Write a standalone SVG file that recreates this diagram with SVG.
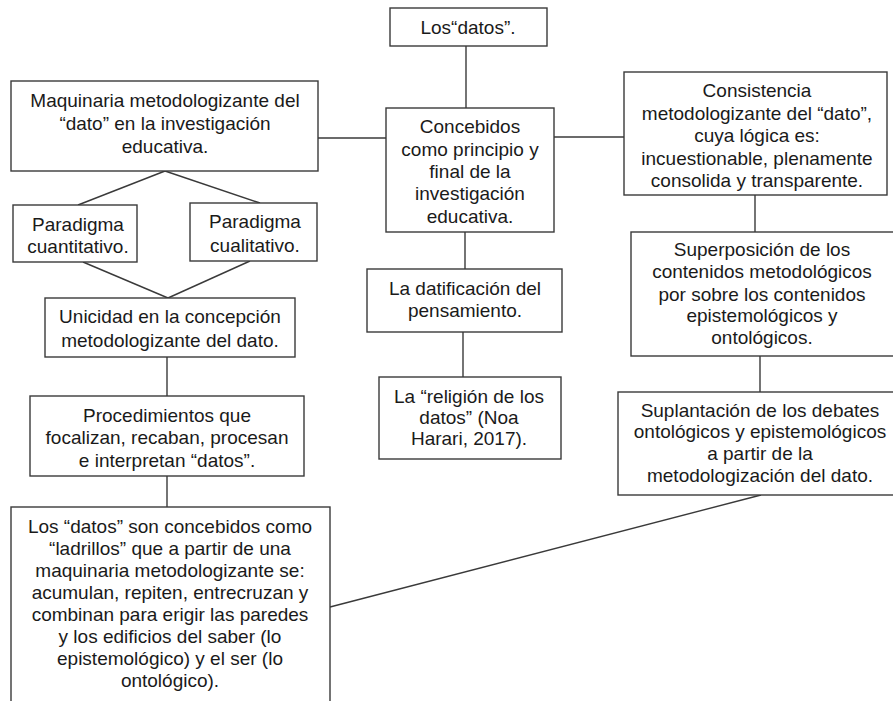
<svg xmlns="http://www.w3.org/2000/svg" width="893" height="701" viewBox="0 0 893 701">
<style>
rect{fill:#fff;stroke:#3a3a3a;stroke-width:1.4}
line{stroke:#3a3a3a;stroke-width:1.4}
text{font-family:"Liberation Sans",Arial,sans-serif;font-size:19px;fill:#1a1a1a;text-anchor:middle}
</style>
<rect x="0" y="0" width="893" height="701" style="stroke:none"/>
<g id="connectors">
<line x1="466" y1="46" x2="466" y2="108"/>
<line x1="318" y1="138" x2="386" y2="138"/>
<line x1="554" y1="137" x2="624" y2="137"/>
<line x1="465" y1="232" x2="465" y2="269"/>
<line x1="463" y1="332" x2="463" y2="377"/>
<line x1="165" y1="171" x2="78" y2="205"/>
<line x1="165" y1="171" x2="260" y2="203"/>
<line x1="83" y1="262" x2="168" y2="298"/>
<line x1="250" y1="261" x2="168" y2="298"/>
<line x1="167" y1="357" x2="167" y2="396"/>
<line x1="167" y1="476" x2="167" y2="507"/>
<line x1="755" y1="195" x2="755" y2="232"/>
<line x1="760" y1="356" x2="760" y2="392"/>
<line x1="761" y1="495" x2="330" y2="607"/>
</g>
<g id="datos">
<rect x="390" y="8" width="157" height="38"/>
<text x="468" y="34">Los“datos”.</text>
</g>
<g id="concebidos">
<rect x="386" y="108" width="168" height="124"/>
<text x="470" y="133">Concebidos</text>
<text x="470" y="155.5">como principio y</text>
<text x="470" y="178">final de la</text>
<text x="470" y="200">investigación</text>
<text x="470" y="222.5">educativa.</text>
</g>
<g id="maquinaria">
<rect x="11" y="81" width="307" height="90"/>
<text x="165" y="107">Maquinaria metodologizante del</text>
<text x="165" y="130">“dato” en la investigación</text>
<text x="165" y="153">educativa.</text>
</g>
<g id="consistencia">
<rect x="624" y="72" width="263" height="123"/>
<text x="757" y="97">Consistencia</text>
<text x="757" y="120">metodologizante del “dato”,</text>
<text x="757" y="142">cuya lógica es:</text>
<text x="757" y="165">incuestionable, plenamente</text>
<text x="757" y="187">consolida y transparente.</text>
</g>
<g id="cuantitativo">
<rect x="13" y="205" width="124" height="57"/>
<text x="78" y="231">Paradigma</text>
<text x="78" y="253">cuantitativo.</text>
</g>
<g id="cualitativo">
<rect x="190" y="203" width="127" height="58"/>
<text x="255" y="228">Paradigma</text>
<text x="255" y="252">cualitativo.</text>
</g>
<g id="unicidad">
<rect x="45" y="298" width="250" height="59"/>
<text x="170" y="323">Unicidad en la concepción</text>
<text x="170" y="347">metodologizante del dato.</text>
</g>
<g id="datificacion">
<rect x="367" y="269" width="195" height="63"/>
<text x="465" y="295">La datificación del</text>
<text x="465" y="317">pensamiento.</text>
</g>
<g id="religion">
<rect x="379" y="377" width="182" height="82"/>
<text x="469" y="403">La “religión de los</text>
<text x="469" y="424">datos” (Noa</text>
<text x="469" y="445">Harari, 2017).</text>
</g>
<g id="superposicion">
<rect x="631" y="232" width="270" height="124"/>
<text x="762" y="256">Superposición de los</text>
<text x="762" y="278">contenidos metodológicos</text>
<text x="762" y="301">por sobre los contenidos</text>
<text x="762" y="322">epistemológicos y</text>
<text x="762" y="344">ontológicos.</text>
</g>
<g id="suplantacion">
<rect x="618" y="392" width="283" height="103"/>
<text x="760" y="417">Suplantación de los debates</text>
<text x="760" y="438">ontológicos y epistemológicos</text>
<text x="760" y="460">a partir de la</text>
<text x="760" y="482">metodologización del dato.</text>
</g>
<g id="procedimientos">
<rect x="30" y="396" width="274" height="80"/>
<text x="167" y="422">Procedimientos que</text>
<text x="167" y="444">focalizan, recaban, procesan</text>
<text x="167" y="467">e interpretan “datos”.</text>
</g>
<g id="ladrillos">
<rect x="11" y="507" width="319" height="210"/>
<text x="170" y="533">Los “datos” son concebidos como</text>
<text x="170" y="555">“ladrillos” que a partir de una</text>
<text x="170" y="577">maquinaria metodologizante se:</text>
<text x="170" y="599">acumulan, repiten, entrecruzan y</text>
<text x="170" y="621">combinan para erigir las paredes</text>
<text x="170" y="643">y los edificios del saber (lo</text>
<text x="170" y="665">epistemológico) y el ser (lo</text>
<text x="170" y="687">ontológico).</text>
</g>
</svg>
